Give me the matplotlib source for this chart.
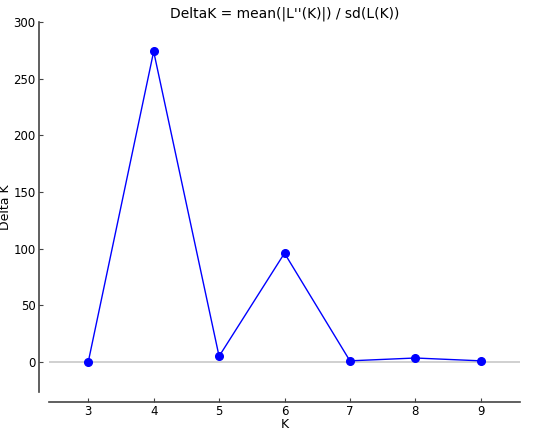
import matplotlib
matplotlib.use("Agg")
import matplotlib.pyplot as plt

K = [3, 4, 5, 6, 7, 8, 9]
delta_k = [0.0, 274.0, 5.0, 96.0, 1.0, 3.5, 1.0]
yticks = [0, 50, 100, 150, 200, 250, 300]

fig = plt.figure(figsize=(5.33, 4.3), dpi=100)
ax = fig.add_axes([49/533, 1-392/430, (520-49)/533, (392-22)/430])
ax.axhline(0, color="#c8c8c8", lw=1.2, zorder=1)
ax.plot(K, delta_k, color="blue", lw=1.0, marker="o", ms=5.5, zorder=3)
ax.set_xlim(2.4, 9.6)
ax.set_ylim(-26.5, 300)
ax.set_xticks(K)
ax.set_yticks(yticks)
for s in ["top", "right"]:
    ax.spines[s].set_visible(False)
ax.spines["left"].set_position(("outward", 7.2))
ax.spines["bottom"].set_position(("outward", 7.2))
for s in ["left", "bottom"]:
    ax.spines[s].set_color("#444444")
    ax.spines[s].set_linewidth(1.2)
ax.tick_params(direction="in", length=3, width=0.8, colors="#444444", labelcolor="black", labelsize=8.5, pad=2.5)
ax.set_xlabel("K", fontsize=9, labelpad=0)
ax.set_ylabel("Delta K", fontsize=9, labelpad=1)
ax.set_title("DeltaK = mean(|L''(K)|) / sd(L(K))", fontsize=10, pad=3)
fig.savefig("out.png", dpi=100)
